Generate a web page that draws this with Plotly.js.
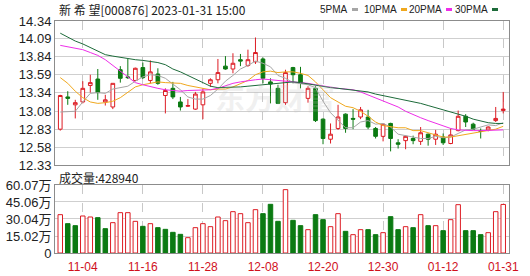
<!DOCTYPE html>
<html>
<head>
<meta charset="utf-8">
<script src="https://cdn.plot.ly/plotly-3.0.1.min.js"></script>
<style>html,body{margin:0;padding:0;background:#fff}#chart{width:530px;height:276px}</style>
</head>
<body>
<div id="chart"></div>
<script>
// ---- data ----
const dates = ['11-01','11-02','11-03','11-04','11-07','11-08','11-09','11-10','11-11','11-14','11-15','11-16','11-17','11-18','11-21','11-22','11-23','11-24','11-25','11-28','11-29','11-30',
  '12-01','12-02','12-05','12-06','12-07','12-08','12-09','12-12','12-13','12-14','12-15','12-16','12-19','12-20','12-21','12-22','12-23','12-26','12-27','12-28','12-29','12-30',
  '01-03','01-04','01-05','01-06','01-09','01-10','01-11','01-12','01-13','01-16','01-17','01-18','01-19','01-20','01-30','01-31'];
const open  = [12.83,13.28,13.17,13.21,13.44,13.53,13.21,13.14,13.66,13.56,13.51,13.69,13.51,13.60,13.30,13.40,13.21,13.15,13.11,13.17,13.47,13.52,13.71,13.67,13.80,13.72,13.77,13.81,13.49,13.40,13.20,13.69,13.59,13.26,13.40,12.97,12.69,12.84,13.04,12.98,13.00,13.00,12.84,12.73,12.91,12.64,12.67,12.70,12.66,12.76,12.69,12.72,12.63,12.81,13.01,12.90,12.81,12.82,12.95,13.09];
const high  = [13.31,13.36,13.24,13.50,13.59,13.67,13.31,13.47,13.71,13.81,13.69,13.76,13.79,13.68,13.40,13.49,13.28,13.25,13.35,13.40,13.54,13.81,13.85,13.89,13.88,13.94,14.11,13.83,13.54,13.45,13.66,13.70,13.70,13.43,13.43,12.98,12.91,13.17,13.05,13.11,13.14,13.10,12.86,12.91,12.92,12.69,12.74,12.74,12.86,12.77,12.82,12.77,12.84,13.09,13.04,12.92,12.84,12.87,13.14,13.35];
const low   = [12.81,13.17,12.98,13.19,13.34,13.24,13.16,13.11,13.48,13.53,13.50,13.53,13.47,13.45,13.05,13.25,13.09,13.14,13.10,12.97,13.42,13.47,13.66,13.61,13.71,13.70,13.74,13.47,13.19,13.19,13.17,13.47,13.40,13.20,12.93,12.62,12.63,12.82,12.78,12.83,12.97,12.83,12.70,12.66,12.52,12.56,12.55,12.62,12.61,12.60,12.61,12.61,12.62,12.80,12.86,12.82,12.70,12.80,12.93,13.05];
const close = [13.30,13.26,13.20,13.40,13.48,13.34,13.24,13.47,13.54,13.55,13.68,13.55,13.63,13.47,13.37,13.28,13.14,13.16,13.32,13.35,13.52,13.62,13.67,13.75,13.78,13.80,13.90,13.54,13.46,13.19,13.62,13.59,13.47,13.40,12.95,12.70,12.76,13.00,12.84,12.97,13.10,12.86,12.73,12.90,12.70,12.62,12.73,12.67,12.78,12.69,12.76,12.64,12.75,13.01,12.93,12.83,12.80,12.86,12.98,13.11];
const ma5  = [13.07,13.07,13.08,13.21,13.33,13.34,13.33,13.39,13.41,13.43,13.50,13.56,13.59,13.58,13.54,13.46,13.38,13.28,13.25,13.25,13.30,13.39,13.50,13.58,13.67,13.72,13.78,13.75,13.70,13.58,13.54,13.48,13.47,13.45,13.41,13.22,13.06,12.96,12.85,12.85,12.93,12.95,12.90,12.91,12.86,12.76,12.74,12.72,12.70,12.70,12.73,12.71,12.72,12.77,12.82,12.83,12.86,12.89,12.88,12.92];
const ma10 = [13.55,13.47,13.36,13.27,13.21,13.19,13.20,13.22,13.27,13.35,13.42,13.45,13.47,13.49,13.48,13.48,13.47,13.44,13.42,13.40,13.38,13.39,13.39,13.42,13.46,13.51,13.59,13.63,13.64,13.62,13.63,13.63,13.61,13.58,13.49,13.38,13.27,13.21,13.15,13.13,13.08,13.01,12.93,12.88,12.86,12.85,12.85,12.81,12.81,12.78,12.74,12.72,12.72,12.74,12.76,12.78,12.79,12.81,12.83,12.87];
const ma20 = [14.00,13.98,13.96,13.94,13.90,13.86,13.80,13.72,13.64,13.56,13.48,13.45,13.42,13.40,13.38,13.37,13.36,13.37,13.37,13.38,13.38,13.40,13.44,13.47,13.49,13.51,13.52,13.53,13.52,13.51,13.51,13.50,13.49,13.47,13.45,13.43,13.41,13.40,13.39,13.38,13.35,13.31,13.27,13.22,13.18,13.14,13.08,13.03,12.99,12.95,12.91,12.87,12.84,12.82,12.81,12.81,12.81,12.81,12.81,12.82];
const ma30 = [14.17,14.11,14.06,14.02,13.97,13.92,13.87,13.85,13.83,13.82,13.80,13.79,13.78,13.76,13.73,13.67,13.63,13.58,13.53,13.47,13.43,13.41,13.41,13.42,13.42,13.43,13.44,13.46,13.47,13.48,13.49,13.49,13.48,13.46,13.44,13.43,13.41,13.40,13.39,13.38,13.37,13.35,13.32,13.30,13.27,13.25,13.23,13.21,13.19,13.16,13.13,13.10,13.08,13.05,13.01,12.97,12.94,12.92,12.91,12.91];
const volume = [33.87,25.92,24.15,32.69,31.81,31.22,21.50,26.80,35.64,35.64,27.98,23.56,25.92,22.38,20.91,18.26,16.49,13.55,22.38,25.92,23.27,31.81,28.57,36.52,34.75,26.80,38.29,34.75,43.00,27.98,55.96,28.86,24.15,20.62,33.87,29.45,23.27,34.75,19.14,16.20,20.62,20.62,16.20,17.97,32.10,20.62,23.27,22.38,33.87,24.15,24.15,19.73,29.45,42.70,19.73,19.73,16.20,17.97,36.52,42.894];
const volUp = [1,0,0,1,1,0,0,1,1,1,1,0,1,0,0,0,0,1,1,1,1,1,1,1,1,1,1,0,0,0,1,0,0,1,0,0,1,1,0,1,1,0,0,1,0,0,1,0,1,0,1,0,1,1,0,0,0,1,1,1];
const xTicks = ['11-04','11-16','11-28','12-08','12-20','12-30','01-12','01-31'];
const priceTicks = [14.34,14.09,13.84,13.59,13.34,13.08,12.83,12.58,12.33];
const volTicks = [0,15.02,30.04,45.06,60.07];
const volTickText = ['0','15.02万','30.04万','45.06万','60.07万'];
const stockName = '新 希 望[000876] 2023-01-31 15:00';
const maNames = ['5PMA','10PMA','20PMA','30PMA'];

// ---- styles ----
const RED = '#dd1c24', GREEN = '#0b7a12';
const maColors = ['#a6a6a6','#f0a81e','#ee2ee8','#1d6b3a'];
const W = 530, H = 276, ML = 55, MR = 21, MT = 21, MB = 23;
const pw = W - ML - MR, ph = H - MT - MB;
const px = v => (v - ML) / pw;
const py = v => (H - MB - v) / ph;

const traces = [];
[ma5, ma10, ma20, ma30].forEach((m, k) => traces.push({
  type: 'scatter', mode: 'lines', x: dates, y: m, xaxis: 'x', yaxis: 'y',
  line: {color: maColors[k], width: 1}, hoverinfo: 'none', showlegend: false
}));
traces.unshift({
  type: 'candlestick', x: dates, open: open, high: high, low: low, close: close,
  xaxis: 'x', yaxis: 'y',
  increasing: {line: {color: RED, width: 1}, fillcolor: '#ffffff'},
  decreasing: {line: {color: GREEN, width: 1}, fillcolor: GREEN},
  whiskerwidth: 0, hoverinfo: 'none', showlegend: false
});
traces.push({
  type: 'bar', x: dates, y: volume, xaxis: 'x2', yaxis: 'y2', width: 0.6,
  marker: {color: volUp.map(u => u ? '#ffffff' : GREEN),
           line: {color: volUp.map(u => u ? RED : GREEN), width: 1}},
  hoverinfo: 'none', showlegend: false
});

const axisBase = {
  type: 'category', categoryorder: 'array', categoryarray: dates,
  range: [-0.7, 59.77], tickmode: 'array', tickvals: xTicks, ticktext: xTicks,
  showgrid: true, gridcolor: '#c8c8c8', griddash: 'dash', gridwidth: 1,
  showline: true, linecolor: '#8c8c8c', linewidth: 1, mirror: true,
  ticks: '', zeroline: false, fixedrange: true, rangeslider: {visible: false}
};

const annotations = [
  {text: stockName, xref: 'paper', yref: 'paper', x: px(57), y: py(9), xanchor: 'left', yanchor: 'middle',
   showarrow: false, font: {family: 'Noto Sans CJK SC, sans-serif', size: 12, color: '#222'}},
  {text: '成交量:' + Math.round(volume[volume.length - 1] * 10000), xref: 'paper', yref: 'paper',
   x: px(57), y: py(177), xanchor: 'left', yanchor: 'middle', showarrow: false,
   font: {family: 'Noto Sans CJK SC, sans-serif', size: 12, color: '#222'}},
  {text: '东方财富', xref: 'paper', yref: 'paper', x: px(275), y: py(96), xanchor: 'center', yanchor: 'middle',
   showarrow: false, font: {family: 'Noto Sans CJK SC, sans-serif', size: 30, color: 'rgba(190,190,190,0.22)', weight: 'bold'}}
];
const dashX = [352, 401, 446, 492];
const shapes = [];
maNames.forEach((n, k) => {
  annotations.push({text: n, xref: 'paper', yref: 'paper', x: px(dashX[k] - 2), y: py(9), xanchor: 'right', yanchor: 'middle',
    showarrow: false, font: {family: 'Liberation Sans, sans-serif', size: 10, color: '#222'}});
  shapes.push({type: 'line', xref: 'paper', yref: 'paper', x0: px(dashX[k]), x1: px(dashX[k] + 6),
    y0: py(9.5), y1: py(9.5), line: {color: maColors[k], width: 3}});
});

const layout = {
  width: W, height: H, margin: {l: ML, r: MR, t: MT, b: MB},
  paper_bgcolor: '#ffffff', plot_bgcolor: '#ffffff', showlegend: false,
  xaxis: Object.assign({}, axisBase, {anchor: 'y', showticklabels: false}),
  xaxis2: Object.assign({}, axisBase, {anchor: 'y2', showticklabels: true, ticklabelstandoff: 3,
    tickfont: {family: 'Liberation Sans, sans-serif', size: 12, color: '#d0101c'}}),
  yaxis: {domain: [py(165), 1], range: [12.33, 14.34], tickmode: 'array', tickvals: priceTicks,
    ticktext: priceTicks.map(v => v.toFixed(2)), showgrid: true, gridcolor: '#cfcfcf', gridwidth: 1,
    showline: true, linecolor: '#8c8c8c', mirror: true, ticks: '', zeroline: false, fixedrange: true,
    tickfont: {family: 'Liberation Sans, Arial, sans-serif', size: 13, color: '#222'}},
  yaxis2: {domain: [0, py(185)], range: [0, 60.07], tickmode: 'array', tickvals: volTicks, ticktext: volTickText,
    showgrid: true, gridcolor: '#cfcfcf', gridwidth: 1, showline: true, linecolor: '#8c8c8c', mirror: true,
    ticks: '', zeroline: false, fixedrange: true,
    tickfont: {family: 'Liberation Sans, Noto Sans CJK SC, sans-serif', size: 13, color: '#222'}},
  annotations: annotations, shapes: shapes
};

Plotly.newPlot('chart', traces, layout, {staticPlot: true, displayModeBar: false});
</script>
</body>
</html>
